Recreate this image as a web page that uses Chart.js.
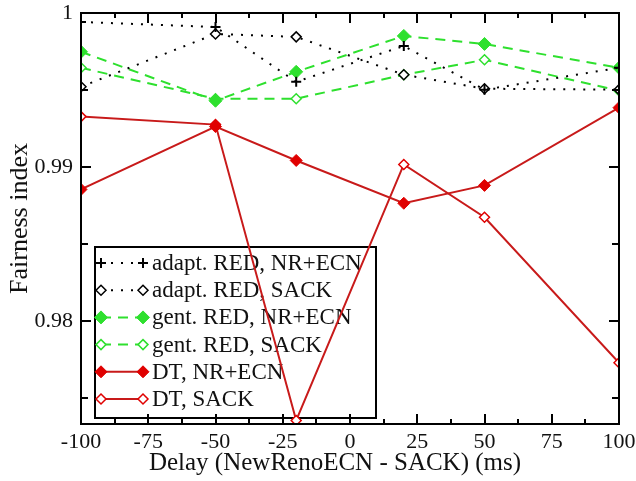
<!DOCTYPE html>
<html><head><meta charset="utf-8">
<script src="https://cdn.jsdelivr.net/npm/chart.js@4/dist/chart.umd.min.js"></script>
<style>html,body{margin:0;padding:0;background:#fff}#wrap{width:636px;height:481px;position:relative}</style>
</head><body><div id="wrap"><canvas id="c" width="636" height="481"></canvas></div>
<script>
// ---- data ----
const delays = [-100, -50, -20, 20, 50, 100];
const adaptNR   = [0.99942, 0.99909, 0.99553, 0.99786, 0.99502, 0.99644];
const adaptSACK = [0.99521, 0.99864, 0.99845, 0.99599, 0.99508, 0.99502];
const gentNR    = [0.99748, 0.99430, 0.99618, 0.99851, 0.99799, 0.99644];
const gentSACK  = [0.99644, 0.99443, 0.99443, 0.99599, 0.99696, 0.99495];
const dtNR      = [0.98854, 0.99262, 0.99042, 0.98764, 0.98880, 0.99385];
const dtSACK    = [0.99327, 0.99275, 0.97353, 0.99016, 0.98673, 0.97728];
const seriesNames = ['adapt. RED, NR+ECN', 'adapt. RED, SACK', 'gent. RED, NR+ECN', 'gent. RED, SACK', 'DT, NR+ECN', 'DT, SACK'];
const xTickLabels = [-100, -75, -50, -25, 0, 25, 50, 75, 100];
const yTickLabels = [0.98, 0.99, 1];
const xTitle = 'Delay (NewRenoECN - SACK) (ms)';
const yTitle = 'Fairness index';

const FONT = "'Liberation Serif', 'Times New Roman', serif";
const GREEN = '#2ee02e', RED_L = '#c81a1a', RED_P = '#e00000';

function pts(arr){ return delays.map((d,i)=>({x:d, y:arr[i]})); }

const styles = [
  {borderColor:'#000', borderDash:[2,8], pointStyle:'cross', pointRadius:5, pointBackgroundColor:'#000', pointBorderColor:'#000', pointBorderWidth:2},
  {borderColor:'#000', borderDash:[2,8], pointStyle:'rectRot', pointRadius:5, pointBackgroundColor:'#fff', pointBorderColor:'#000', pointBorderWidth:1.5},
  {borderColor:GREEN, borderDash:[10,7], pointStyle:'rectRot', pointRadius:6.5, pointBackgroundColor:GREEN, pointBorderColor:GREEN, pointBorderWidth:1},
  {borderColor:GREEN, borderDash:[10,7], pointStyle:'rectRot', pointRadius:5, pointBackgroundColor:'#fff', pointBorderColor:GREEN, pointBorderWidth:1.5},
  {borderColor:RED_L, borderDash:[], pointStyle:'rectRot', pointRadius:6, pointBackgroundColor:RED_P, pointBorderColor:RED_P, pointBorderWidth:1},
  {borderColor:RED_L, borderDash:[], pointStyle:'rectRot', pointRadius:5, pointBackgroundColor:'#fff', pointBorderColor:RED_P, pointBorderWidth:1.5}
];
const seriesData = [adaptNR, adaptSACK, gentNR, gentSACK, dtNR, dtSACK];

const datasets = seriesData.map((arr,i)=>Object.assign({
  label: seriesNames[i], data: pts(arr), borderWidth: 2, tension: 0, fill: false,
  pointHoverRadius: 5
}, styles[i]));

function drawMarker(ctx, st, x, y){
  const r = st.pointRadius;
  ctx.save();
  ctx.lineWidth = st.pointBorderWidth;
  ctx.strokeStyle = st.pointBorderColor;
  ctx.fillStyle = st.pointBackgroundColor;
  ctx.setLineDash([]);
  ctx.beginPath();
  if (st.pointStyle === 'cross') {
    ctx.moveTo(x-r,y); ctx.lineTo(x+r,y); ctx.moveTo(x,y-r); ctx.lineTo(x,y+r);
    ctx.stroke();
  } else {
    ctx.moveTo(x,y-r); ctx.lineTo(x+r,y); ctx.lineTo(x,y+r); ctx.lineTo(x-r,y); ctx.closePath();
    ctx.fill(); ctx.stroke();
  }
  ctx.restore();
}

const framePlugin = {
  id: 'frame',
  afterDatasetsDraw(chart){
    const ctx = chart.ctx;
    const {left, right, top, bottom} = chart.chartArea;
    const xs = chart.scales.x, ys = chart.scales.y;
    ctx.save();
    ctx.strokeStyle = '#000'; ctx.lineWidth = 2; ctx.setLineDash([]);
    ctx.strokeRect(left, top, right-left, bottom-top);
    ctx.beginPath();
    xs.ticks.forEach(t=>{
      const px = Math.round(xs.getPixelForValue(t.value));
      const major = Math.abs(t.value % 25) < 1e-9;
      const len = major ? 10 : 5;
      if (px <= left+1 || px >= right-1) return;
      ctx.moveTo(px, bottom); ctx.lineTo(px, bottom-len);
      ctx.moveTo(px, top); ctx.lineTo(px, top+len);
    });
    ys.ticks.forEach(t=>{
      const py = Math.round(ys.getPixelForValue(t.value));
      const major = yTickLabels.some(v=>Math.abs(v-t.value)<1e-9);
      const len = major ? 10 : 7;
      if (py <= top+1 || py >= bottom-1) return;
      ctx.moveTo(left, py); ctx.lineTo(left+len, py);
      ctx.moveTo(right, py); ctx.lineTo(right-len, py);
    });
    ctx.stroke();
    // x axis title (slightly left of centre, as in the original figure)
    ctx.fillStyle = '#111';
    ctx.font = '25px ' + FONT;
    ctx.textAlign = 'center';
    ctx.textBaseline = 'middle';
    ctx.fillText(xTitle, left + (right-left)/2 - 15, 463);
    ctx.restore();
  }
};

const legendPlugin = {
  id: 'boxLegend',
  beforeDatasetsDraw(chart){
    const ctx = chart.ctx;
    const {left, bottom} = chart.chartArea;
    const bx = left + 14, by = 247, bw = 281, bh = bottom - 6 - by;
    ctx.save();
    ctx.fillStyle = '#fff';
    ctx.fillRect(bx, by, bw, bh);
    ctx.strokeStyle = '#000'; ctx.lineWidth = 2; ctx.setLineDash([]);
    ctx.strokeRect(bx, by, bw, bh);
    const rowH = 27.2;
    chart.data.datasets.forEach((ds,i)=>{
      const y = by + 16 + i*rowH;
      const x1 = bx + 6, x2 = bx + 48;
      ctx.save();
      ctx.strokeStyle = ds.borderColor; ctx.lineWidth = 2;
      ctx.setLineDash(ds.borderDash || []);
      ctx.beginPath(); ctx.moveTo(x1, y); ctx.lineTo(x2, y); ctx.stroke();
      ctx.restore();
      drawMarker(ctx, ds, x1, y);
      drawMarker(ctx, ds, x2, y);
      ctx.fillStyle = '#111';
      ctx.font = '23px ' + FONT;
      ctx.textBaseline = 'middle';
      ctx.textAlign = 'left';
      ctx.fillText(ds.label, bx + 57, y + 1);
    });
    ctx.restore();
  }
};

new Chart(document.getElementById('c'), {
  type: 'line',
  data: { datasets },
  options: {
    responsive: false, animation: false, devicePixelRatio: 1,
    layout: { padding: { left: 0, right: 17, top: 13, bottom: 0 } },
    plugins: { legend: { display: false }, tooltip: { enabled: false } },
    scales: {
      x: {
        type: 'linear', min: -100, max: 100,
        afterBuildTicks(s){ const t=[]; for(let v=-100; v<=100; v+=12.5) t.push({value:v}); s.ticks=t; },
        afterFit(s){ s.height = 57; s.paddingLeft = 0; s.paddingRight = 0; },
        grid: { display: false, drawTicks: false },
        border: { display: false },
        ticks: {
          autoSkip: false, maxRotation: 0, padding: 5, color: '#111',
          font: { family: FONT, size: 22 },
          callback(v){ return xTickLabels.includes(v) ? String(v) : ''; }
        },
        title: { display: false, text: xTitle }
      },
      y: {
        type: 'linear', min: 0.9733, max: 1.0,
        afterBuildTicks(s){ s.ticks = [0.975,0.98,0.985,0.99,0.995,1.0].map(v=>({value:v})); },
        afterFit(s){ s.width = 81; s.paddingTop = 0; s.paddingBottom = 0; },
        grid: { display: false, drawTicks: false },
        border: { display: false },
        ticks: {
          autoSkip: false, padding: 8, color: '#111',
          font: { family: FONT, size: 22 },
          callback(v){ const m = yTickLabels.find(t=>Math.abs(t-v)<1e-9); return m===undefined ? '' : String(m); }
        },
        title: { display: true, text: yTitle, color: '#111', font: { family: FONT, size: 26 }, padding: { top: 5, bottom: 0 } }
      }
    }
  },
  plugins: [framePlugin, legendPlugin]
});
</script></body></html>
